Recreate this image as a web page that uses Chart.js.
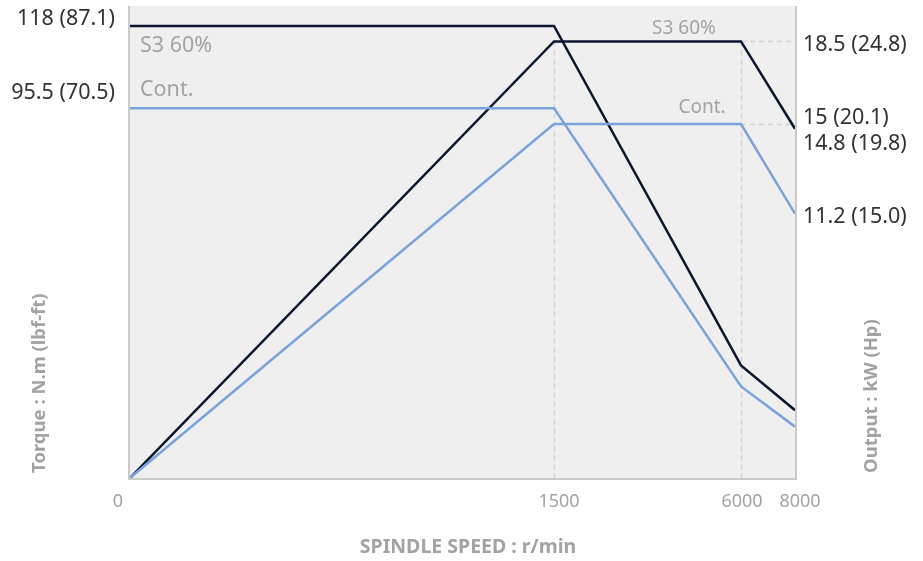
<!DOCTYPE html>
<html>
<head>
<meta charset="utf-8">
<script src="https://cdn.jsdelivr.net/npm/chart.js@4/dist/chart.umd.min.js"></script>
<style>
  html, body { margin: 0; padding: 0; background: #fff; }
  #wrap { width: 923px; height: 561px; }
</style>
</head>
<body>
<div id="wrap"><canvas id="graph" width="923" height="561"></canvas></div>
<script>
// spindle speed (r/min)
const speeds = [0, 1500, 6000, 8000];
// torque N.m
const torqueS3 = [118, 118, 29.4, 17.7];
const torqueCont = [96.5, 96.5, 23.9, 13.4];
// output kW
const outputS3 = [0, 18.5, 18.5, 14.8];
const outputCont = [0, 15, 15, 11.2];

const xTickLabels = ["0", "1500", "6000", "8000"];
const torqueLabels = ["118 (87.1)", "95.5 (70.5)"];
const outputLabels = ["18.5 (24.8)", "15 (20.1)", "14.8 (19.8)", "11.2 (15.0)"];
const outputLabelValues = [18.5, 15, 14.8, 11.2];

const DARK = "#0b1731";
const LIGHT = "#7ba3da";
const GREY_TXT = "#a3a3a3";
const FONT = "'Noto Sans', sans-serif";

// x軸は区間ごとに幅が違うので区分線形スケールを作る
const breakFrac = [0, 0.6376, 0.9188, 1];
const toFrac = (v) => {
  for (let i = 1; i < speeds.length; i++) {
    if (v <= speeds[i]) {
      const t = (v - speeds[i - 1]) / (speeds[i] - speeds[i - 1]);
      return breakFrac[i - 1] + t * (breakFrac[i] - breakFrac[i - 1]);
    }
  }
  return 1;
};
const fromFrac = (f) => {
  for (let i = 1; i < breakFrac.length; i++) {
    if (f <= breakFrac[i]) {
      const t = (f - breakFrac[i - 1]) / (breakFrac[i] - breakFrac[i - 1]);
      return speeds[i - 1] + t * (speeds[i] - speeds[i - 1]);
    }
  }
  return speeds[speeds.length - 1];
};

class PiecewiseScale extends Chart.LinearScale {
  getPixelForValue(value) {
    return this.getPixelForDecimal(toFrac(value));
  }
  getValueForPixel(pixel) {
    return fromFrac(this.getDecimalForPixel(pixel));
  }
}
PiecewiseScale.id = "piecewise";
PiecewiseScale.defaults = Chart.LinearScale.defaults;
Chart.register(PiecewiseScale);

const toPoints = (ys) => speeds.map((x, i) => ({ x, y: ys[i] }));

// 背景・枠・破線
const backdrop = {
  id: "backdrop",
  beforeDatasetsDraw(chart) {
    const { ctx, chartArea: a, scales } = chart;
    const x = scales.x, yP = scales.yP;
    ctx.save();
    ctx.fillStyle = "#efefef";
    ctx.fillRect(a.left, a.top, a.right - a.left, a.bottom - a.top);

    ctx.strokeStyle = "#d3d3d3";
    ctx.lineWidth = 1.5;
    ctx.setLineDash([5, 4]);
    ctx.beginPath();
    [1, 2].forEach((i) => {
      const px = Math.round(x.getPixelForValue(speeds[i])) + 0.5;
      ctx.moveTo(px, yP.getPixelForValue(outputS3[1]));
      ctx.lineTo(px, a.bottom);
    });
    [outputS3[1], outputCont[1]].forEach((v) => {
      const py = Math.round(yP.getPixelForValue(v)) + 0.5;
      ctx.moveTo(x.getPixelForValue(speeds[2]), py);
      ctx.lineTo(a.right, py);
    });
    ctx.stroke();
    ctx.setLineDash([]);

    ctx.strokeStyle = "#cacaca";
    ctx.lineWidth = 2;
    ctx.beginPath();
    ctx.moveTo(a.left - 1, a.top);
    ctx.lineTo(a.left - 1, a.bottom + 1);
    ctx.lineTo(a.right + 1, a.bottom + 1);
    ctx.lineTo(a.right + 1, a.top);
    ctx.stroke();
    ctx.restore();
  },
};

// 文字類
const texts = {
  id: "texts",
  afterDraw(chart) {
    const { ctx, scales } = chart;
    const x = scales.x, yT = scales.yT, yP = scales.yP;
    ctx.save();
    ctx.textBaseline = "middle";

    // 左側の値
    ctx.fillStyle = "#333";
    ctx.font = `21.5px ${FONT}`;
    ctx.textAlign = "right";
    ctx.fillText(torqueLabels[0], 115, yT.getPixelForValue(torqueS3[0]) - 7);
    ctx.fillText(torqueLabels[1], 115, yT.getPixelForValue(torqueCont[0]) - 15);

    // 右側の値
    ctx.textAlign = "left";
    const rightOffsets = [3, -6, 15, 3];
    outputLabels.forEach((t, i) => {
      ctx.fillText(t, 803, yP.getPixelForValue(outputLabelValues[i]) + rightOffsets[i]);
    });

    // S3 / Cont.
    ctx.fillStyle = GREY_TXT;
    ctx.font = `21.5px ${FONT}`;
    ctx.textAlign = "left";
    ctx.fillText("S3 60%", 140, yT.getPixelForValue(torqueS3[0]) + 20);
    ctx.fillText("Cont.", 140, yT.getPixelForValue(torqueCont[0]) - 18);
    ctx.font = `19px ${FONT}`;
    ctx.textAlign = "center";
    ctx.fillText("S3 60%", 684, yP.getPixelForValue(outputS3[1]) - 13);
    ctx.fillText("Cont.", 702, yP.getPixelForValue(outputCont[1]) - 16);

    // x軸目盛り
    ctx.font = `18px ${FONT}`;
    const tickOffsets = [-12, 5, 1, 5];
    speeds.forEach((s, i) => {
      ctx.fillText(xTickLabels[i], x.getPixelForValue(s) + tickOffsets[i], 502);
    });

    // 軸タイトル
    ctx.font = `bold 19.5px ${FONT}`;
    ctx.fillText("SPINDLE SPEED : r/min", 468, 547);
    ctx.font = `bold 18.5px ${FONT}`;
    ctx.textAlign = "left";
    [["Torque : N.m (lbf-ft)", 40], ["Output : kW (Hp)", 872]].forEach(([t, cx]) => {
      ctx.save();
      ctx.translate(cx, 473);
      ctx.rotate(-Math.PI / 2);
      ctx.fillText(t, 0, 0);
      ctx.restore();
    });
    ctx.restore();
  },
};

const lineStyle = (color) => ({
  borderColor: color,
  backgroundColor: color,
  borderWidth: 2.5,
  pointRadius: 0,
  tension: 0,
  fill: false,
});

new Chart(document.getElementById("graph"), {
  type: "line",
  data: {
    datasets: [
      { label: "Torque Cont.", data: toPoints(torqueCont), yAxisID: "yT", ...lineStyle(LIGHT) },
      { label: "Output Cont.", data: toPoints(outputCont), yAxisID: "yP", ...lineStyle(LIGHT) },
      { label: "Torque S3 60%", data: toPoints(torqueS3), yAxisID: "yT", ...lineStyle(DARK) },
      { label: "Output S3 60%", data: toPoints(outputS3), yAxisID: "yP", ...lineStyle(DARK) },
    ],
  },
  options: {
    responsive: false,
    animation: false,
    layout: { padding: { left: 130, right: 128, top: 6, bottom: 83 } },
    scales: {
      x: { type: "piecewise", min: 0, max: 8000, display: false },
      yT: { type: "linear", position: "left", min: 0, max: 123.2, display: false },
      yP: { type: "linear", position: "right", min: 0, max: 20, display: false },
    },
    plugins: {
      legend: { display: false },
      tooltip: { enabled: false },
    },
  },
  plugins: [backdrop, texts],
});
</script>
</body>
</html>
